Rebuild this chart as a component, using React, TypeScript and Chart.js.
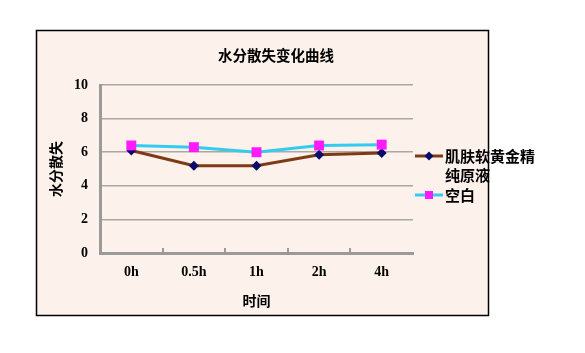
import React, { useEffect, useRef } from "react";
import { Chart, registerables } from "chart.js";

Chart.register(...registerables);

const categories = ["0h", "0.5h", "1h", "2h", "4h"];
const productValues = [6.1, 5.2, 5.2, 5.85, 5.95];
const blankValues = [6.4, 6.3, 6.0, 6.4, 6.45];
const seriesNames = ["肌肤软黄金精纯原液", "空白"];
const chartTitle = "水分散失变化曲线";
const xTitle = "时间";
const yTitle = "水分散失";

const CJK = "'Noto Sans CJK SC', sans-serif";
const NUM = "'Liberation Serif', 'Noto Sans CJK SC', serif";

const BROWN = "#7E3A14";
const NAVY = "#0A0A6A";
const CYAN = "#33CCEE";
const MAGENTA = "#FF19FF";

const decorPlugin = {
  id: "decor",
  beforeDraw(chart: any) {
    const ctx = chart.ctx;
    ctx.save();
    ctx.fillStyle = "#FFFFFF";
    ctx.fillRect(0, 0, chart.width, chart.height);
    ctx.fillStyle = "#FCF1EB";
    ctx.fillRect(36, 30, 453, 286);
    ctx.strokeStyle = "#000000";
    ctx.lineWidth = 1.5;
    ctx.strokeRect(36.5, 30.5, 452, 285);
    ctx.fillStyle = "#000000";
    ctx.font = "bold 14.5px " + CJK;
    ctx.textAlign = "center";
    ctx.textBaseline = "middle";
    ctx.fillText(chartTitle, 276, 55);
    ctx.restore();
  },
  afterDatasetsDraw(chart: any) {
    const ctx = chart.ctx;
    const x = chart.scales.x;
    const area = chart.chartArea;
    ctx.save();
    ctx.strokeStyle = "#999999";
    ctx.lineWidth = 2;
    for (let i = 1; i < categories.length; i++) {
      const px = Math.round(x.getPixelForValue(i - 0.5));
      ctx.beginPath();
      ctx.moveTo(px, area.bottom);
      ctx.lineTo(px, area.bottom - 5);
      ctx.stroke();
    }
    ctx.restore();
  },
  afterDraw(chart: any) {
    const ctx = chart.ctx;
    ctx.save();
    ctx.strokeStyle = BROWN;
    ctx.lineWidth = 3;
    ctx.beginPath();
    ctx.moveTo(415, 156);
    ctx.lineTo(443, 156);
    ctx.stroke();
    ctx.fillStyle = NAVY;
    ctx.beginPath();
    ctx.moveTo(429, 151.5);
    ctx.lineTo(433.5, 156);
    ctx.lineTo(429, 160.5);
    ctx.lineTo(424.5, 156);
    ctx.closePath();
    ctx.fill();
    ctx.strokeStyle = CYAN;
    ctx.beginPath();
    ctx.moveTo(415, 195);
    ctx.lineTo(443, 195);
    ctx.stroke();
    ctx.fillStyle = MAGENTA;
    ctx.fillRect(425, 191, 8, 8);
    ctx.fillStyle = "#000000";
    ctx.font = "bold 15px " + CJK;
    ctx.textAlign = "left";
    ctx.textBaseline = "middle";
    const name = seriesNames[0];
    ctx.fillText(name.slice(0, 6), 445, 156);
    ctx.fillText(name.slice(6), 445, 175);
    ctx.fillText(seriesNames[1], 445, 195);
    ctx.restore();
  },
};

export default function App() {
  const ref = useRef<HTMLCanvasElement>(null);
  useEffect(() => {
    if (!ref.current) return;
    const chart = new Chart(ref.current, {
      type: "line",
      data: {
        labels: categories,
        datasets: [
          {
            label: seriesNames[0],
            data: productValues,
            borderColor: BROWN,
            backgroundColor: NAVY,
            borderWidth: 3,
            pointStyle: "rectRot",
            pointRadius: 5,
            pointBorderWidth: 0,
            pointBackgroundColor: NAVY,
            pointBorderColor: NAVY,
            tension: 0,
            order: 1,
          },
          {
            label: seriesNames[1],
            data: blankValues,
            borderColor: CYAN,
            backgroundColor: MAGENTA,
            borderWidth: 3,
            pointStyle: "rect",
            pointRadius: 7,
            pointBorderWidth: 0,
            pointBackgroundColor: MAGENTA,
            pointBorderColor: MAGENTA,
            tension: 0,
            order: 0,
          },
        ],
      },
      plugins: [decorPlugin],
      options: {
        responsive: false,
        animation: false,
        devicePixelRatio: 1,
        layout: { padding: { left: 0, top: 85, right: 172, bottom: 0 } },
        plugins: {
          legend: { display: false },
          title: { display: false },
          tooltip: { enabled: false },
        },
        scales: {
          x: {
            offset: true,
            grid: { display: false, drawTicks: false },
            border: { display: true, color: "#9A9A9A", width: 3 },
            ticks: {
              color: "#000000",
              padding: 11,
              font: { family: NUM, size: 14, weight: "bold" },
            },
            title: {
              display: true,
              text: xTitle,
              color: "#000000",
              font: { family: CJK, size: 14, weight: "bold" },
              padding: { top: 0, bottom: 44 },
            },
            afterFit(scale: any) {
              scale.height = 100;
            },
          },
          y: {
            min: 0,
            max: 10,
            ticks: {
              stepSize: 2,
              color: "#000000",
              padding: 12,
              font: { family: NUM, size: 14, weight: "bold" },
            },
            grid: { color: "#A8A8A8", lineWidth: 1.5, drawTicks: false },
            border: { display: true, color: "#9A9A9A", width: 3 },
            title: {
              display: true,
              text: yTitle,
              color: "#000000",
              font: { family: CJK, size: 14, weight: "bold" },
              padding: { top: 47, bottom: 0 },
            },
            afterFit(scale: any) {
              scale.width = 100;
            },
          },
        },
      },
    });
    return () => chart.destroy();
  }, []);
  return (
    <div style={{ position: "absolute", left: 0, top: 0, width: 585, height: 353 }}>
      <canvas ref={ref} width={585} height={353} style={{ width: 585, height: 353 }} />
    </div>
  );
}
